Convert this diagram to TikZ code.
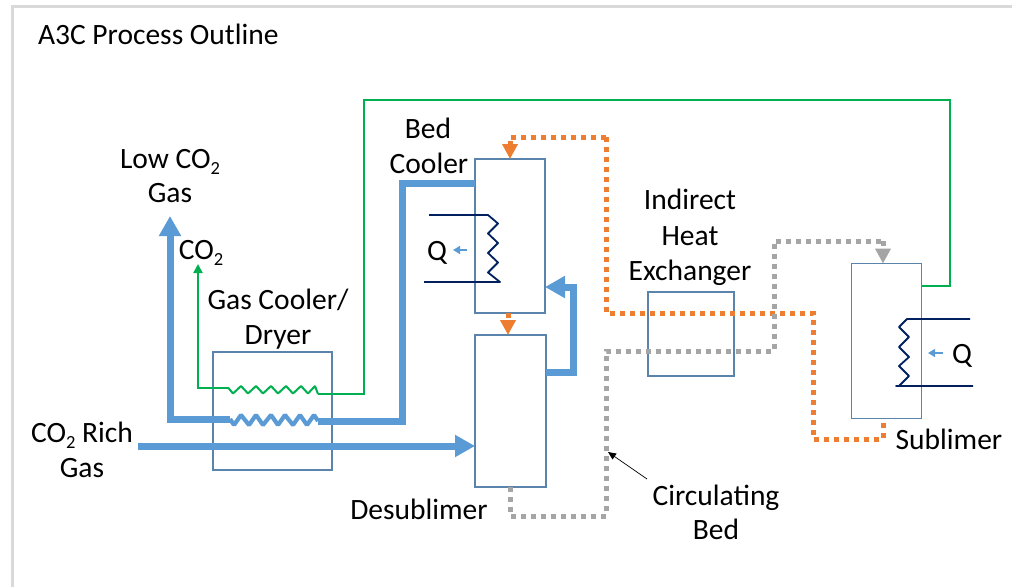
\documentclass[tikz,border=0pt]{standalone}
\usepackage{fontspec}
\setmainfont{Carlito}
\usetikzlibrary{arrows.meta}
\definecolor{cblue}{HTML}{5B9BD5}
\definecolor{corange}{HTML}{ED7D31}
\definecolor{cgrey}{HTML}{A5A5A5}
\definecolor{cgreen}{HTML}{00B050}
\definecolor{cnavy}{HTML}{002060}
\definecolor{cbox}{HTML}{5A84AB}
\definecolor{cframe}{HTML}{D9D9D9}
\newcommand{\subtwo}{\raisebox{-6pt}{\fontsize{18.5}{18.5}\selectfont 2}}
\tikzset{
  x=1pt,y=-1pt,
  vessel/.style={draw=cbox,line width=1.1pt,inner sep=0pt,outer sep=0pt},
  lbl/.style={inner sep=0pt,outer sep=0pt,anchor=base,font=\fontsize{29.5}{29.5}\selectfont,text=black},
  bigtip/.style={-{Triangle[length=20pt,width=21pt]}},
  smalltip/.style={-{Triangle[length=15pt,width=15pt]}},
  thick blue/.style={draw=cblue,line width=7pt},
  coil blue/.style={draw=cblue,line width=4.2pt,line join=bevel},
  orange dots/.style={draw=corange,line width=5pt,dash pattern=on 5pt off 5pt},
  grey dots/.style={draw=cgrey,line width=5pt,dash pattern=on 5pt off 5pt},
  green line/.style={draw=cgreen,line width=2pt},
  coil/.style={draw=cnavy,line width=1.8pt},
  q arrow/.style={draw=cblue,line width=1.5pt,-{Triangle[length=7pt,width=8pt]}},
}
\begin{document}
\begin{tikzpicture}
\useasboundingbox (0,0) rectangle (1012,587);
\draw[cframe,line width=3pt] (12.5,587) -- (12.5,6) -- (1012,6);

% vessels
\node[vessel,minimum width=119pt,minimum height=118pt] (dryer) at (272.5,411) {};
\node[vessel,minimum width=70pt,minimum height=154pt] (bed) at (510,236) {};
\node[vessel,minimum width=71pt,minimum height=152pt] (des) at (510.5,411) {};
\node[vessel,minimum width=86pt,minimum height=84pt] (hx) at (691,334) {};
\node[vessel,minimum width=70pt,minimum height=155pt] (sub) at (886.5,341) {};

% way points
\coordinate (lowtop) at (170,216);
\coordinate (lowcorner) at (170,419);
\coordinate (coilAl) at (230,419);
\coordinate (coilAr) at (318,421);
\coordinate (bedriser) at (402,183);
\coordinate (richstart) at (138,446);
\coordinate (retcorner) at (573,372);
\coordinate (rettop) at (573,287);
\coordinate (co2top) at (198,264);
\coordinate (coilBl) at (228,387.5);
\coordinate (coilBr) at (318,394);
\coordinate (greenA) at (364,394);
\coordinate (greenB) at (364,100);
\coordinate (greenC) at (950,100);
\coordinate (greenD) at (950,286);
\coordinate (orA) at (510,137);
\coordinate (orB) at (606,137);
\coordinate (orC) at (606,313);
\coordinate (orD) at (813,313);
\coordinate (orE) at (813,439);
\coordinate (orF) at (883,439);
\coordinate (grA) at (510,516);
\coordinate (grB) at (606,516);
\coordinate (grC) at (606,351);
\coordinate (grD) at (774,351);
\coordinate (grE) at (774,241);
\coordinate (grF) at (883,241);
\coordinate (ptr) at (608,452);
\coordinate (ptrS) at (647,479);

% thick blue streams
\draw[thick blue,bigtip,line join=miter] (coilAl) -- (lowcorner) -- (lowtop);
\draw[thick blue,line join=miter] (coilAr) -| (bedriser) -- (bed.west |- bedriser);
\draw[coil blue] (coilAl) -- (234,425) -- (241,415) -- (249,425) -- (256,415) -- (263,425) -- (271,415) -- (278,425) -- (285,415) -- (293,425) -- (300,415) -- (307,425) -- (314,415) -- (coilAr);
\draw[thick blue,bigtip] (richstart) -- (des.west |- richstart);
\draw[thick blue,bigtip,line join=miter] (des.east |- retcorner) -- (retcorner) -- (rettop) -- (bed.east |- rettop);

% green stream
\draw[green line,-{Triangle[length=9pt,width=9pt]}] (coilBl) -| (co2top);
\draw[green line,line join=bevel] (coilBl) -- (233,393.5) -- (241,386) -- (248,393.5) -- (256,386) -- (263,393.5) -- (271,386) -- (278,393.5) -- (286,386) -- (293,393.5) -- (301,386) -- (308,393.5) -- (315,386) -- (coilBr);
\draw[green line] (coilBr) -- (greenA) -- (greenB) -- (greenC) -- (greenD) -- (sub.east |- greenD);

% dotted streams
\draw[orange dots,smalltip] (orA -| orB) -- (orA) -- (bed.north -| orA);
\draw[orange dots] (orA -| orB) -- (orC) -- (orD) -- (orE) -- (orF) -- (sub.south -| orF);
\draw[orange dots,smalltip] (bed.south -| 508,0) -- (des.north -| 508,0);
\draw[grey dots] (des.south -| grA) -- (grA) -- (grB) -- (grC) -- (grD) -- (grE) -- (grF);
\draw[grey dots,smalltip] (grF) -- (sub.north -| grF);

% pointer
\draw[black,line width=0.7pt,-{Triangle[length=8pt,width=7pt]}] (ptrS) -- (ptr);

% heat coils
\draw[coil,line join=round] (429,215) -- (488,215) -- (498,223.5) -- (488,233.5) -- (498,243) -- (488,253) -- (498,262.5) -- (488,272.5) -- (500,282) -- (424,282);
\draw[coil,line join=round] (970,319) -- (907,319) -- (899,327) -- (909,337) -- (899,347) -- (909,357) -- (899,366) -- (909,376) -- (899,386) -- (896,386) -- (973,386);
\draw[q arrow] (467,250) -- (453,250);
\draw[q arrow] (943,353) -- (928,353);

% labels
\node[lbl,anchor=base west] (title) at (38,44) {A3C Process Outline};
\node[lbl] (l1) at (170,168) {Low CO\subtwo};
\node[lbl] (l2) at (170,202) {Gas};
\node[lbl] (l3) at (201,259) {CO\subtwo};
\node[lbl] (l4) at (278,309) {Gas Cooler/};
\node[lbl] (l5) at (278,344) {Dryer};
\node[lbl] (l6) at (428,138) {Bed};
\node[lbl] (l7) at (429,173) {Cooler};
\node[lbl] (l8) at (690,209) {Indirect};
\node[lbl] (l9) at (690,245) {Heat};
\node[lbl] (l10) at (690,280) {Exchanger};
\node[lbl] (l11) at (949,449) {Sublimer};
\node[lbl] (l12) at (419,519) {Desublimer};
\node[lbl] (l13) at (716,505) {Circulating};
\node[lbl] (l14) at (716,539) {Bed};
\node[lbl] (l15) at (82,442) {CO\subtwo{} Rich};
\node[lbl] (l16) at (82,477) {Gas};
\node[lbl] (q1) at (437,260) {Q};
\node[lbl] (q2) at (962,363) {Q};
\end{tikzpicture}
\end{document}
